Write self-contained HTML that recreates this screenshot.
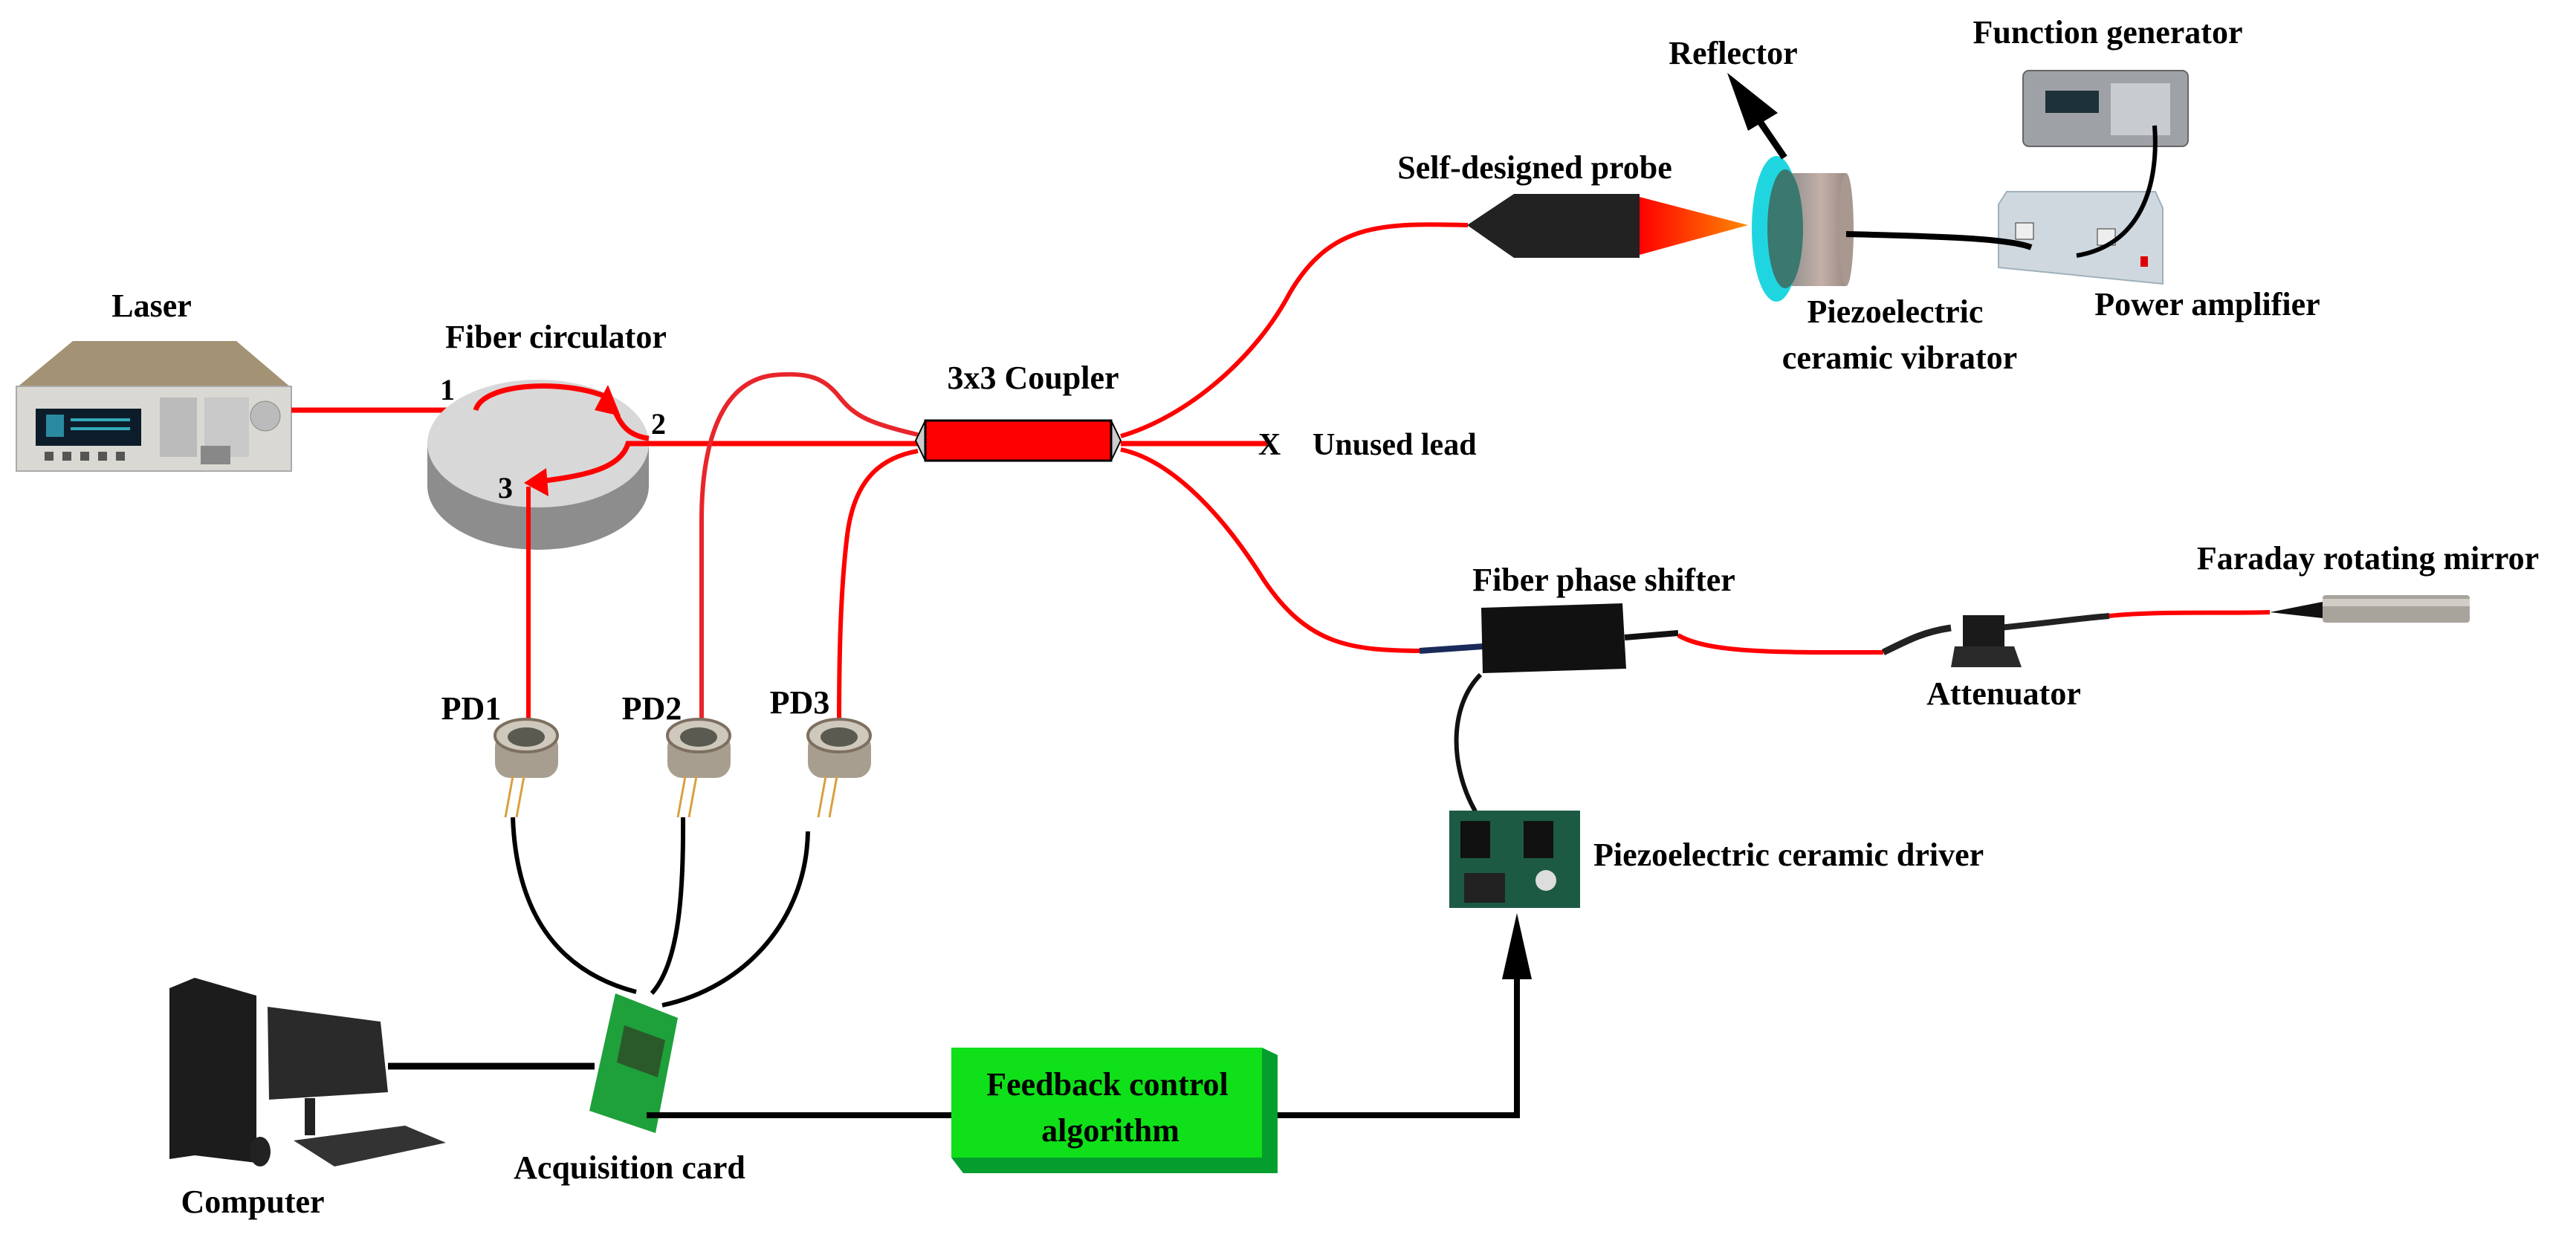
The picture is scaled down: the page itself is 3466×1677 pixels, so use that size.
<!DOCTYPE html>
<html><head><meta charset="utf-8"><style>
html,body{margin:0;padding:0;background:#fff;}
svg{display:block;}
text{font-family:"Liberation Serif",serif;font-weight:bold;fill:#000;}
</style></head><body>
<svg width="3466" height="1677" viewBox="0 0 3466 1677" xmlns="http://www.w3.org/2000/svg">
<!-- Laser -->
<text x="204" y="426" font-size="44" text-anchor="middle">Laser</text>
<polygon points="98,459 318,459 392,522 22,522" fill="#a39274"/>
<rect x="22" y="520" width="370" height="114" fill="#d9d8d2" stroke="#aaa" stroke-width="2"/>
<rect x="48" y="550" width="142" height="50" fill="#0d1c2a"/>
<rect x="62" y="558" width="24" height="30" fill="#2a8aa0"/>
<rect x="95" y="563" width="80" height="4" fill="#3ab"/><rect x="95" y="575" width="80" height="4" fill="#3ab"/>
<g fill="#555"><rect x="60" y="608" width="12" height="12"/><rect x="84" y="608" width="12" height="12"/><rect x="108" y="608" width="12" height="12"/><rect x="132" y="608" width="12" height="12"/><rect x="156" y="608" width="12" height="12"/></g>
<rect x="215" y="535" width="50" height="80" fill="#bbb"/><rect x="275" y="535" width="60" height="80" fill="#c8c8c8"/>
<circle cx="357" cy="560" r="20" fill="#bbb" stroke="#888"/>
<rect x="270" y="600" width="40" height="25" fill="#888"/>
<!-- laser fiber -->
<path d="M392,552 L640,552" stroke="#f00" stroke-width="7" fill="none"/>
<!-- Circulator -->
<text x="748" y="468" font-size="44" text-anchor="middle">Fiber circulator</text>
<path d="M575,597 L575,654 A149,86 0 0 0 873,654 L873,597 Z" fill="#8d8d8d"/>
<ellipse cx="724" cy="597" rx="149" ry="86" fill="#d8d8d8"/>
<path d="M640,552 C650,515 760,510 818,535 C832,560 835,585 873,590" stroke="#f00" stroke-width="7" fill="none"/>
<polygon points="818,518 835,560 800,552" fill="#f00"/>
<path d="M873,597 L845,597 C835,630 790,640 725,648" stroke="#f00" stroke-width="7" fill="none"/>
<polygon points="705,650 735,630 738,668" fill="#f00"/>
<text x="602" y="538" font-size="40" text-anchor="middle">1</text>
<text x="886" y="584" font-size="40" text-anchor="middle">2</text>
<text x="680" y="670" font-size="40" text-anchor="middle">3</text>
<!-- circulator to coupler -->
<path d="M873,597 L1235,597" stroke="#f00" stroke-width="7" fill="none"/>
<path d="M711,655 L711,970" stroke="#f00" stroke-width="6" fill="none"/>
<!-- PD2 curve -->
<path d="M1235,585 C1170,570 1150,560 1130,535 C1110,510 1090,500 1040,505 C960,515 944,620 944,700 L944,975" stroke="#e8252a" stroke-width="6" fill="none"/>
<!-- PD3 curve -->
<path d="M1235,607 C1190,615 1150,640 1140,720 C1130,800 1129,900 1129,975" stroke="#f00" stroke-width="6" fill="none"/>
<!-- Coupler -->
<text x="1390" y="523" font-size="44" text-anchor="middle">3x3 Coupler</text>
<path d="M1232,593 L1245,566 L1245,620 Z" fill="#ccc" stroke="#000" stroke-width="2"/>
<path d="M1508,593 L1495,566 L1495,620 Z" fill="#ccc" stroke="#000" stroke-width="2"/>
<rect x="1245" y="566" width="250" height="54" fill="#f00" stroke="#000" stroke-width="3"/>
<path d="M1508,597 L1705,597" stroke="#f00" stroke-width="7" fill="none"/>
<text x="1708" y="612" font-size="42" text-anchor="middle">X</text>
<text x="1766" y="612" font-size="42">Unused lead</text>
<!-- upper right fiber -->
<path d="M1508,587 C1600,560 1690,480 1735,395 C1790,300 1860,300 1975,303" stroke="#f00" stroke-width="6" fill="none"/>
<!-- lower right fiber -->
<path d="M1508,605 C1580,620 1650,700 1700,780 C1760,870 1820,875 1910,876" stroke="#f00" stroke-width="6" fill="none"/>
<!-- Probe -->
<text x="2065" y="240" font-size="44" text-anchor="middle">Self-designed probe</text>
<polygon points="1974,303 2037,261 2206,261 2206,347 2037,347" fill="#222"/>
<defs>
<linearGradient id="cone" x1="0" x2="1"><stop offset="0" stop-color="#f00"/><stop offset="1" stop-color="#ff8a00"/></linearGradient>
<linearGradient id="disc" x1="0" x2="1"><stop offset="0" stop-color="#8a8a8a"/><stop offset="0.6" stop-color="#c4b0a8"/><stop offset="1" stop-color="#9a8a84"/></linearGradient>
</defs>
<polygon points="2206,265 2352,303 2206,343" fill="url(#cone)"/>
<!-- reflector -->
<rect x="2400" y="233" width="84" height="152" fill="url(#disc)"/>
<ellipse cx="2484" cy="309" rx="10" ry="76" fill="#a89890"/>
<ellipse cx="2390" cy="308" rx="33" ry="98" fill="#1fd6e0"/>
<ellipse cx="2402" cy="308" rx="24" ry="80" fill="#3a7870"/>
<text x="2332" y="86" font-size="44" text-anchor="middle">Reflector</text>
<path d="M2401,212 L2345,130" stroke="#000" stroke-width="9" fill="none"/>
<polygon points="2324,98 2392,152 2352,176" fill="#000"/>
<text x="2550" y="434" font-size="44" text-anchor="middle">Piezoelectric</text>
<text x="2556" y="496" font-size="44" text-anchor="middle">ceramic vibrator</text>
<!-- function generator -->
<text x="2836" y="58" font-size="44" text-anchor="middle">Function generator</text>
<rect x="2722" y="95" width="222" height="102" rx="8" fill="#9ea2a6" stroke="#666" stroke-width="2"/>
<rect x="2752" y="122" width="72" height="30" fill="#1d3238"/>
<rect x="2840" y="112" width="80" height="70" fill="#c8ccd0"/>
<!-- power amp -->
<polygon points="2700,258 2900,258 2910,280 2910,382 2689,360 2689,275" fill="#cfd8de" stroke="#9fb0bb" stroke-width="2"/>
<rect x="2712" y="300" width="24" height="22" fill="#eee" stroke="#333"/>
<rect x="2822" y="308" width="24" height="22" fill="#eee" stroke="#333"/>
<rect x="2880" y="345" width="10" height="14" fill="#d00"/>
<path d="M2484,315 C2600,318 2700,320 2733,333" stroke="#000" stroke-width="8" fill="none"/>
<path d="M2899,169 C2905,250 2880,330 2794,344" stroke="#000" stroke-width="6" fill="none"/>
<text x="2970" y="424" font-size="44" text-anchor="middle">Power amplifier</text>
<!-- phase shifter path -->
<text x="2158" y="795" font-size="44" text-anchor="middle">Fiber phase shifter</text>
<path d="M1910,876 L1995,870" stroke="#1a2a5a" stroke-width="8"/>
<polygon points="1993,818 2183,812 2188,900 1995,906" fill="#111"/>
<path d="M2186,858 L2258,852" stroke="#111" stroke-width="8"/>
<path d="M2258,855 C2300,880 2400,878 2534,878" stroke="#f00" stroke-width="6" fill="none"/>
<path d="M2534,878 C2570,860 2590,850 2625,845" stroke="#222" stroke-width="9" fill="none"/>
<path d="M2690,845 C2760,838 2800,832 2838,829" stroke="#222" stroke-width="8" fill="none"/>
<rect x="2641" y="828" width="56" height="48" fill="#1a1a1a"/>
<polygon points="2630,870 2710,870 2720,898 2625,898" fill="#2a2a2a"/>
<path d="M2838,829 C2900,822 3000,826 3054,824" stroke="#f00" stroke-width="6" fill="none"/>
<polygon points="3054,824 3125,810 3125,832" fill="#111"/>
<rect x="3125" y="801" width="198" height="37" rx="4" fill="#a8a49c"/>
<rect x="3125" y="806" width="198" height="10" fill="#d0cdc6"/>
<text x="3186" y="766" font-size="44" text-anchor="middle">Faraday rotating mirror</text>
<text x="2696" y="948" font-size="44" text-anchor="middle">Attenuator</text>
<!-- driver -->
<path d="M1992,908 C1950,950 1950,1030 1985,1092" stroke="#111" stroke-width="6" fill="none"/>
<rect x="1950" y="1091" width="176" height="131" fill="#1c5a44"/>
<rect x="1965" y="1105" width="40" height="50" fill="#111"/><rect x="2050" y="1105" width="40" height="50" fill="#111"/>
<rect x="1970" y="1175" width="55" height="40" fill="#222"/><circle cx="2080" cy="1185" r="14" fill="#ddd"/>
<text x="2144" y="1165" font-size="44">Piezoelectric ceramic driver</text>
<!-- PDs -->
<text x="634" y="968" font-size="44" text-anchor="middle">PD1</text>
<text x="877" y="968" font-size="44" text-anchor="middle">PD2</text>
<text x="1076" y="960" font-size="44" text-anchor="middle">PD3</text>
<g id="pd">
<rect x="666" y="985" width="85" height="62" rx="20" fill="#a89e90"/>
<ellipse cx="708" cy="990" rx="42" ry="22" fill="#cfc8bc" stroke="#7d7060" stroke-width="4"/>
<ellipse cx="708" cy="992" rx="25" ry="13" fill="#5a5a50"/>
<path d="M690,1045 L680,1100 M705,1045 L695,1100" stroke="#d8a040" stroke-width="3"/>
</g>
<use href="#pd" x="232"/>
<use href="#pd" x="421"/>
<!-- black cables PD to card -->
<path d="M690,1100 C695,1240 760,1310 856,1335" stroke="#000" stroke-width="6" fill="none"/>
<path d="M919,1100 C920,1220 910,1300 877,1337" stroke="#000" stroke-width="6" fill="none"/>
<path d="M1087,1119 C1085,1240 1000,1330 891,1353" stroke="#000" stroke-width="6" fill="none"/>
<!-- acquisition card -->
<polygon points="828,1337 912,1370 882,1525 793,1495" fill="#1ea03a"/>
<polygon points="840,1380 895,1400 885,1450 830,1430" fill="#2a5a2a"/>
<text x="847" y="1586" font-size="44" text-anchor="middle">Acquisition card</text>
<!-- computer -->
<polygon points="228,1330 262,1316 345,1340 345,1565 262,1555 228,1560" fill="#1c1c1c"/>
<polygon points="360,1355 512,1375 522,1470 362,1480" fill="#2a2a2a"/>
<rect x="410" y="1478" width="14" height="50" fill="#222"/>
<polygon points="395,1535 545,1515 600,1538 450,1570" fill="#333"/>
<ellipse cx="350" cy="1550" rx="14" ry="20" fill="#222"/>
<path d="M522,1435 L800,1435" stroke="#000" stroke-width="9"/>
<text x="340" y="1632" font-size="44" text-anchor="middle">Computer</text>
<!-- feedback -->
<path d="M870,1501 L1280,1501" stroke="#000" stroke-width="8"/>
<polygon points="1280,1410 1698,1410 1719,1420 1719,1579 1296,1579 1280,1558" fill="#039e2e"/>
<rect x="1280" y="1410" width="418" height="148" fill="#0fe01a"/>
<text x="1490" y="1474" font-size="44" text-anchor="middle">Feedback control</text>
<text x="1494" y="1536" font-size="44" text-anchor="middle">algorithm</text>
<path d="M1719,1501 L2041,1501 L2041,1300" stroke="#000" stroke-width="8" fill="none"/>
<polygon points="2041,1229 2021,1318 2061,1318" fill="#000"/>
</svg>
</body></html>
